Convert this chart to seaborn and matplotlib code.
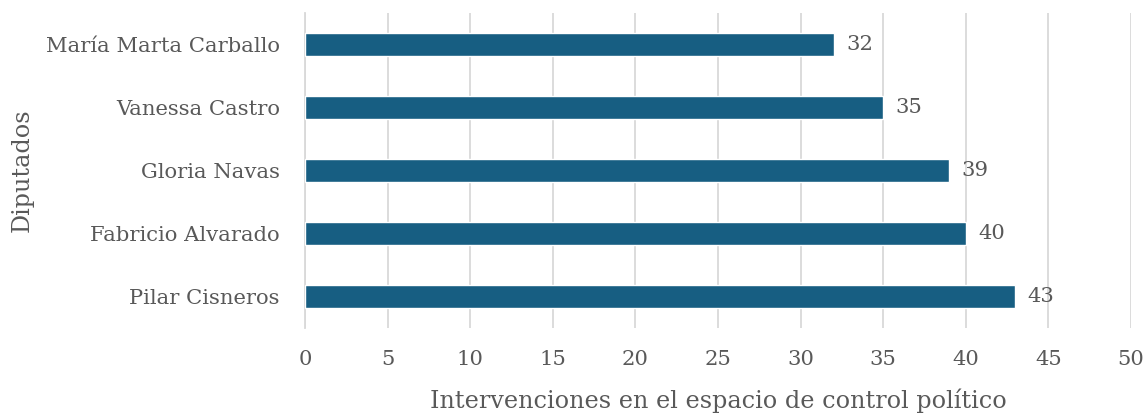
import matplotlib
matplotlib.use("Agg")
import matplotlib.pyplot as plt
import seaborn as sns
import pandas as pd

diputados = ["María Marta Carballo", "Vanessa Castro", "Gloria Navas", "Fabricio Alvarado", "Pilar Cisneros"]
intervenciones = [32, 35, 39, 40, 43]
xticks = [0, 5, 10, 15, 20, 25, 30, 35, 40, 45, 50]

sns.set_theme(style="white")
plt.rcParams["font.family"] = ["DejaVu Serif"]
txt = "#595959"

df = pd.DataFrame({"Diputados": diputados, "Intervenciones": intervenciones})

fig = plt.figure(figsize=(11.44, 4.13), dpi=100)
ax = fig.add_axes([0.2666, 0.2058, 0.722, 0.7627])
sns.barplot(data=df, y="Diputados", x="Intervenciones", orient="h",
            color="#175E82", saturation=1, width=0.35, ax=ax, zorder=3)

ax.set_xlim(0, 50)
ax.set_ylim(4.5, -0.5)
ax.set_xticks(xticks)
ax.set_xticklabels([str(t) for t in xticks])
ax.grid(axis="x", color="#D9D9D9", linewidth=1.3, zorder=0)
for s in ["top", "right", "bottom"]:
    ax.spines[s].set_visible(False)
ax.spines["left"].set_color("#D9D9D9")
ax.spines["left"].set_linewidth(1.3)
ax.tick_params(axis="both", length=0, colors=txt, labelsize=15.2)
ax.tick_params(axis="x", pad=16)
ax.tick_params(axis="y", pad=18)
for c in ax.containers:
    ax.bar_label(c, labels=[str(v) for v in intervenciones], padding=9, color=txt, fontsize=15.2)
ax.set_xlabel("Intervenciones en el espacio de control político", color=txt, fontsize=17.2, labelpad=14)
ax.set_ylabel("Diputados", color=txt, fontsize=17.2, labelpad=9)

fig.savefig("out.png", dpi=100)
